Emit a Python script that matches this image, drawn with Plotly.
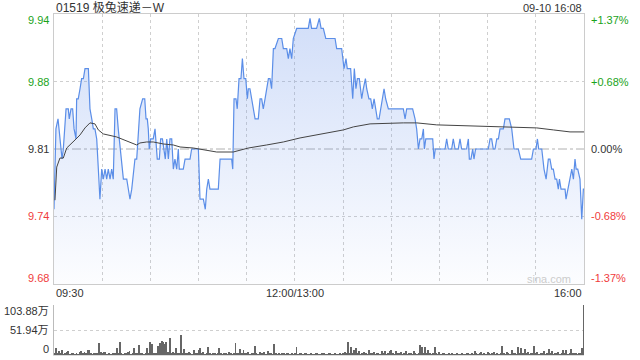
import plotly.graph_objects as go

# ---------------- data ----------------
title_text = "01519 极兔速递－W"
stamp_text = "09-10 16:08"
prev_close = 9.81

# trading minutes since 09:30 (lunch break removed) and last price
price_min = [0, 1.2, 2.5, 3.7, 5, 5.8, 6.8, 7.5, 8.9, 9.5, 10.6, 11.6, 12.5, 13.7, 14.1, 15.1, 16.2, 17.2, 18.3, 19.3,
             21.4, 22.4, 23.5, 24.5, 25.5, 26.6, 27.6, 28.6, 29.7, 30.7, 31.8, 32.8, 33.8, 34.9, 35.9, 36.9, 38, 39, 40, 41.1,
             43.2, 45.3, 47.3, 48.4, 50.4, 51.5, 52.5, 53.5, 55.2, 56.5, 57.3, 58.1, 58.7, 59.3, 60.2, 61.8, 62.9, 63.9, 64.3, 65.6,
             66.4, 67.5, 68.5, 69.3, 70.2, 71.2, 72.2, 73.3, 74.3, 75.3, 76.4, 77.4, 78, 80.5, 81.6, 84.7, 85.7, 89.9, 90.9, 93,
             94.2, 95.1, 96.1, 97.1, 102.3, 103.4, 110.6, 111.3, 112.1, 113.3, 114.1, 115.2, 116.4, 117.3, 118.3, 119.4, 120.4, 121, 122, 123.1,
             124.1, 125.2, 127.2, 128.3, 129.3, 130.3, 131.4, 132.4, 133.5, 134.5, 135.5, 136.6, 137.6, 139.7, 141.8, 142.8, 144.9, 145.9, 146.9, 148,
             149, 151.1, 158.3, 159.4, 160.4, 163.5, 165.2, 166.3, 167.7, 169.2, 175, 176, 179.1, 180.6, 181.8, 182.6, 184.7, 186, 187, 188,
             188.9, 190.1, 191.6, 192.6, 193.9, 194.7, 196.1, 197.2, 198.2, 199.3, 200.3, 201.3, 202.4, 203.4, 204.2, 205.5, 206.5, 208.2, 217.5, 218.6,
             219.6, 223.3, 224.8, 225.8, 226.9, 227.9, 229, 230, 230.6, 231.5, 235.8, 236.6, 237.4, 243.5, 244.5, 245.5, 247.6, 248.6, 249.7, 251.7,
             252.8, 253.8, 256.9, 258, 258.6, 259.6, 260.7, 261.5, 262.5, 270.4, 271.5, 272.5, 273.5, 274.6, 275.7, 276.7, 277.7, 279.8, 280.8, 283.5,
             285, 286.4, 289.1, 290.6, 297.4, 298.5, 300.1, 301, 301.8, 303.7, 305.1, 306.4, 307.8, 308.8, 309.9, 310.9, 312, 313, 314, 314.7,
             315.7, 318.2, 318.8, 319.9, 321.3, 322.4, 323.4, 324.4, 325.1, 326.1, 327.5, 328.6, 329.6, 330]
price_val = [9.75, 9.83, 9.84, 9.82, 9.80, 9.81, 9.84, 9.85, 9.85, 9.84, 9.85, 9.85, 9.83, 9.82, 9.86, 9.86, 9.87, 9.88, 9.88, 9.89,
             9.89, 9.85, 9.84, 9.83, 9.83, 9.82, 9.79, 9.76, 9.79, 9.78, 9.79, 9.78, 9.79, 9.78, 9.79, 9.78, 9.85, 9.85, 9.83, 9.81,
             9.78, 9.78, 9.76, 9.77, 9.80, 9.80, 9.83, 9.85, 9.86, 9.86, 9.84, 9.84, 9.83, 9.81, 9.82, 9.82, 9.83, 9.81, 9.80, 9.80,
             9.82, 9.82, 9.81, 9.80, 9.82, 9.80, 9.82, 9.82, 9.79, 9.80, 9.79, 9.81, 9.79, 9.79, 9.80, 9.80, 9.81, 9.81, 9.76, 9.76,
             9.75, 9.77, 9.78, 9.77, 9.77, 9.80, 9.80, 9.79, 9.86, 9.86, 9.85, 9.88, 9.88, 9.90, 9.88, 9.88, 9.86, 9.87, 9.87, 9.86,
             9.85, 9.84, 9.84, 9.86, 9.86, 9.85, 9.86, 9.87, 9.88, 9.88, 9.87, 9.91, 9.91, 9.92, 9.92, 9.91, 9.91, 9.90, 9.91, 9.90,
             9.92, 9.93, 9.93, 9.94, 9.93, 9.93, 9.94, 9.93, 9.93, 9.92, 9.92, 9.91, 9.91, 9.89, 9.90, 9.89, 9.89, 9.86, 9.89, 9.87,
             9.88, 9.88, 9.86, 9.87, 9.88, 9.87, 9.86, 9.86, 9.85, 9.86, 9.85, 9.84, 9.84, 9.85, 9.86, 9.87, 9.86, 9.85, 9.85, 9.84,
             9.85, 9.85, 9.84, 9.83, 9.81, 9.82, 9.82, 9.83, 9.81, 9.82, 9.82, 9.80, 9.81, 9.81, 9.82, 9.81, 9.81, 9.82, 9.81, 9.81,
             9.82, 9.81, 9.81, 9.82, 9.80, 9.80, 9.81, 9.80, 9.81, 9.81, 9.82, 9.82, 9.81, 9.81, 9.82, 9.82, 9.83, 9.83, 9.84, 9.84,
             9.83, 9.81, 9.81, 9.80, 9.80, 9.81, 9.81, 9.82, 9.81, 9.81, 9.79, 9.78, 9.80, 9.80, 9.79, 9.79, 9.78, 9.78, 9.77, 9.78,
             9.77, 9.77, 9.76, 9.77, 9.78, 9.79, 9.78, 9.80, 9.79, 9.79, 9.78, 9.74, 9.77, 9.77]

# average price line
avg_min = [0.6, 1.7, 3.7, 5.8, 7.9, 10, 13.1, 16.2, 19.3, 22.4, 25.5, 27.6, 30.7, 39, 45.3, 51.5, 53.5, 57.7, 61.8, 68.1,
           74.3, 78.5, 86.7, 93, 101.3, 111.6, 115.8, 121, 132.4, 142.8, 153.2, 165.6, 180.2, 186.4, 196.8, 217.5, 225.8, 238.3, 261.1, 279.8,
           300.6, 310.9, 321.3, 330]
avg_val = [9.759, 9.792, 9.801, 9.801, 9.811, 9.814, 9.819, 9.824, 9.831, 9.836, 9.835, 9.829, 9.825, 9.822, 9.818, 9.814, 9.816, 9.817, 9.817, 9.815,
           9.814, 9.812, 9.811, 9.809, 9.807, 9.807, 9.809, 9.811, 9.814, 9.817, 9.821, 9.825, 9.829, 9.832, 9.835, 9.836, 9.836, 9.834, 9.833, 9.832,
           9.831, 9.829, 9.827, 9.827]

# volume per minute (万), minutes 0..330
volume = [
    3, 14, 4, 8, 3, 10, 2, 3, 7, 8, 2, 5, 3, 2, 3, 2, 7, 8, 3, 7, 4, 10, 10, 3, 2, 4, 3, 5, 24, 6,
    3, 7, 6, 2, 3, 2, 1, 3, 4, 14, 5, 26, 3, 2, 5, 3, 6, 8, 2, 3, 14, 4, 3, 20, 4, 5, 2, 3, 14, 4,
    27, 23, 3, 5, 4, 19, 24, 29, 28, 23, 28, 6, 35, 4, 7, 3, 14, 4, 5, 41, 4, 12, 3, 4, 6, 3, 2, 11, 3, 4,
    11, 14, 3, 6, 2, 4, 16, 3, 2, 4, 3, 2, 4, 14, 3, 2, 3, 5, 2, 6, 3, 2, 4, 24, 3, 4, 12, 3, 11, 4,
    3, 7, 2, 3, 4, 19, 3, 2, 7, 3, 4, 6, 2, 8, 3, 4, 2, 22, 3, 2, 5, 2, 3, 4, 2, 3, 5, 2, 3, 2,
    3, 16, 2, 5, 3, 2, 3, 4, 2, 1, 3, 2, 2, 5, 3, 2, 1, 4, 3, 2, 2, 3, 4, 2, 1, 3, 2, 2, 3, 2,
    4, 7, 3, 26, 4, 16, 3, 10, 14, 3, 8, 2, 4, 7, 3, 2, 10, 3, 4, 6, 2, 3, 4, 2, 8, 3, 8, 2, 4, 8,
    10, 3, 2, 8, 3, 4, 7, 2, 3, 8, 2, 3, 4, 2, 9, 3, 2, 4, 21, 16, 3, 16, 4, 10, 3, 2, 4, 16, 3, 2,
    7, 2, 3, 5, 2, 1, 3, 2, 5, 2, 1, 3, 2, 2, 4, 1, 2, 3, 5, 2, 3, 2, 8, 3, 2, 4, 7, 2, 3, 2,
    7, 3, 2, 4, 7, 2, 3, 2, 4, 19, 3, 2, 7, 3, 2, 10, 3, 4, 2, 16, 3, 15, 4, 12, 3, 7, 2, 3, 4, 19,
    3, 7, 2, 4, 3, 8, 2, 4, 12, 3, 8, 2, 4, 3, 7, 2, 4, 10, 3, 10, 2, 4, 13, 3, 4, 5, 2, 3, 4, 14,
    103.88]
vol_min = list(range(len(volume)))

pct_levels = [-1.37, -0.68, 0.0, 0.68, 1.37]
price_labels = ["9.68", "9.74", "9.81", "9.88", "9.94"]
pct_labels = ["-1.37%", "-0.68%", "0.00%", "+0.68%", "+1.37%"]
vol_ticks = [0, 51.94, 103.88]
vol_labels = ["0", "51.94万", "103.88万"]
time_ticks = [0, 150, 330]
time_labels = ["09:30", "12:00/13:00", "16:00"]

# ---------------- figure ----------------
FONT = "Arial, Liberation Sans, Noto Sans CJK SC, sans-serif"
GREEN = "#1aa31a"
RED = "#f03c3c"
DARK = "#333333"

level_vals = [prev_close * (1 + p / 100) for p in pct_levels]
ymin, ymax = level_vals[0], level_vals[-1]

fig = go.Figure()

# baseline for the area fill
fig.add_trace(go.Scatter(x=[0, 330], y=[ymin, ymin], mode="lines", line=dict(width=0),
                         hoverinfo="skip", showlegend=False, xaxis="x", yaxis="y"))
fig.add_trace(go.Scatter(
    x=price_min, y=price_val, mode="lines", line=dict(color="#5b8ee8", width=1.2),
    fill="tonexty",
    fillgradient=dict(type="vertical", start=ymin, stop=ymax,
                      colorscale=[[0, "rgba(110,150,235,0.02)"], [1, "rgba(110,150,235,0.32)"]]),
    showlegend=False, xaxis="x", yaxis="y"))
fig.add_trace(go.Scatter(x=avg_min, y=avg_val, mode="lines", line=dict(color="#444444", width=1),
                         showlegend=False, xaxis="x", yaxis="y"))
fig.add_trace(go.Bar(x=vol_min, y=volume, width=0.6, marker=dict(color="#666666", line=dict(width=0)),
                     showlegend=False, xaxis="x2", yaxis="y2"))

main_bottom = (355 - 284) / 341
vol_top = (355 - 305) / 341

fig.update_layout(
    width=640, height=360,
    margin=dict(l=54, r=56, t=14, b=5),
    paper_bgcolor="white", plot_bgcolor="white",
    font=dict(family=FONT, size=11, color=DARK),
    bargap=0,
    xaxis=dict(domain=[0, 1], range=[0, 330], tickvals=list(range(0, 331, 30)), showticklabels=False,
               showgrid=True, gridcolor="#cfcfcf", griddash="dot", gridwidth=1,
               showline=True, linecolor="#cccccc", linewidth=1, mirror=True, zeroline=False, ticks=""),
    yaxis=dict(domain=[main_bottom, 1], range=[ymin, ymax], tickvals=[level_vals[1], level_vals[3]],
               showticklabels=False, showgrid=True, gridcolor="#cfcfcf", griddash="dot", gridwidth=1,
               showline=True, linecolor="#cccccc", linewidth=1, mirror=True, zeroline=False, ticks=""),
    xaxis2=dict(domain=[0, 1], range=[0, 330], anchor="y2", showticklabels=False, showgrid=False,
                showline=True, linecolor="#dddddd", linewidth=1, zeroline=False, ticks=""),
    yaxis2=dict(domain=[0, vol_top], range=[0, 103.88], anchor="x2", tickvals=[51.94, 103.88],
                showticklabels=False, showgrid=True, gridcolor="#cfcfcf", griddash="dot", gridwidth=1,
                showline=True, linecolor="#bbbbbb", linewidth=1, zeroline=False, ticks=""),
)

# previous close line
fig.add_shape(type="line", xref="x", yref="y", x0=0, x1=330, y0=prev_close, y1=prev_close,
              line=dict(color="#b0b0b0", width=1, dash="dashdot"), layer="below")

ann = []
colors = [RED, RED, DARK, GREEN, GREEN]
shifts = [6, 0, 0, 0, -6]
for v, pl, cl, c, s in zip(level_vals, price_labels, pct_labels, colors, shifts):
    ann.append(dict(x=0, xref="paper", y=v, yref="y", text=pl, showarrow=False, xanchor="right",
                    yanchor="middle", xshift=-3, yshift=s, font=dict(color=c, size=11)))
    ann.append(dict(x=1, xref="paper", y=v, yref="y", text=cl, showarrow=False, xanchor="left",
                    yanchor="middle", xshift=5, yshift=s, font=dict(color=c, size=11)))

vshifts = [6, 0, -6]
for v, t, s in zip(vol_ticks, vol_labels, vshifts):
    ann.append(dict(x=0, xref="paper", y=v, yref="y2", text=t, showarrow=False, xanchor="right",
                    yanchor="middle", xshift=-3, yshift=s, font=dict(color=DARK, size=11)))

anchors = ["left", "center", "right"]
for t, lab, a in zip(time_ticks, time_labels, anchors):
    ann.append(dict(x=t, xref="x", y=ymin, yref="y", text=lab, showarrow=False, xanchor=a,
                    yanchor="middle", yshift=-9, font=dict(color=DARK, size=11)))

# header texts (centred ~7.5 px from the top of the page)
ann.append(dict(x=0, xref="paper", y=1, yref="paper", text=title_text, showarrow=False, xanchor="left",
                yanchor="middle", yshift=6.5, font=dict(color=DARK, size=12)))
ann.append(dict(x=1, xref="paper", y=1, yref="paper", text=stamp_text, showarrow=False, xanchor="right",
                yanchor="middle", yshift=6.5, font=dict(color=DARK, size=11)))
ann.append(dict(x=323, xref="x", y=ymin, yref="y", text="sina.com", showarrow=False, xanchor="right",
                yanchor="middle", yshift=5, font=dict(color="#cccccc", size=11)))

fig.update_layout(annotations=ann)

fig.write_html("out.html")
